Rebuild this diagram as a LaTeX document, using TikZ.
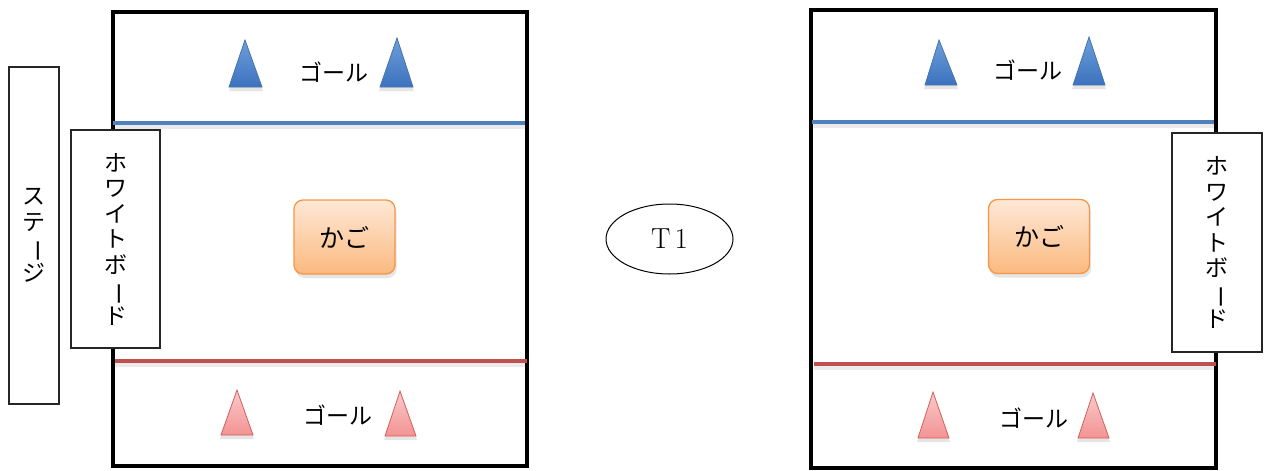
\documentclass[tikz,border=0pt]{standalone}
\usepackage{fontspec}
\newfontfamily\jp{Noto Sans CJK JP}
\usetikzlibrary{shapes.geometric}
\definecolor{goalblue}{HTML}{4F81BD}
\definecolor{goalred}{HTML}{C0504D}
\definecolor{tribluetop}{HTML}{6E9FDB}
\definecolor{tribluebot}{HTML}{3C72BE}
\definecolor{triredtop}{HTML}{F9CACA}
\definecolor{triredbot}{HTML}{F39393}
\definecolor{triredline}{HTML}{D25F5C}
\definecolor{kagotop}{HTML}{FEE8D6}
\definecolor{kagobot}{HTML}{FBB97F}
\definecolor{kagoline}{HTML}{F79646}
\begin{document}
\begin{tikzpicture}[x=1pt,y=-1pt,
  field/.style={draw=black,line width=4pt},
  blueline/.style={draw=goalblue,line width=4pt},
  redline/.style={draw=goalred,line width=4pt},
  lineshadow/.style={draw=black,opacity=0.08,line width=4pt},
  board/.style={draw=black!85,line width=1.3pt,fill=white,align=center,inner sep=0pt,
    font=\jp\fontsize{23}{25.5}\selectfont},
  bluetri/.style={top color=tribluetop,bottom color=tribluebot,draw=goalblue!90!black,line width=0.8pt},
  redtri/.style={top color=triredtop,bottom color=triredbot,draw=triredline,line width=0.8pt},
  trishadow/.style={fill=black,opacity=0.10},
  goaltext/.style={font=\jp\fontsize{23}{25}\selectfont,inner sep=0pt},
  kago/.style={rounded corners=9pt,top color=kagotop,bottom color=kagobot,draw=kagoline,
    line width=1.3pt,minimum width=101pt,minimum height=74pt,font=\jp\fontsize{25}{26}\selectfont},
  kagoshadow/.style={rounded corners=9pt,fill=black,opacity=0.10,minimum width=101pt,minimum height=74pt},
  round/.style={draw=black,line width=1pt,ellipse,minimum width=127pt,minimum height=70pt,
    font=\fontsize{29}{30}\selectfont}
]
\useasboundingbox (0,0) rectangle (1269,471);
\newcommand{\vbar}{\rotatebox[origin=c]{-90}{ー}}

% ---------- left field ----------
\draw[field] (113,12) rectangle (527,466);
\draw[lineshadow] (113,127) -- (525,127);
\draw[blueline] (113,123) -- (525,123);
\draw[lineshadow] (115,365) -- (527,365);
\draw[redline] (115,361) -- (527,361);

\node[board,minimum width=50pt,minimum height=337pt] (stage) at (34,235.5)
  {ス\\テ\\\vbar\\ジ};
\node[board,minimum width=89pt,minimum height=218pt] (wbL) at (115.5,239)
  {ホ\\ワ\\イ\\ト\\ボ\\\vbar\\ド};

\fill[trishadow] (245,44) -- (263,91) -- (229,91) -- cycle;
\path[bluetri] (245,40) -- (262,87) -- (229,87) -- cycle;
\fill[trishadow] (397,42) -- (414,91) -- (379,91) -- cycle;
\path[bluetri] (397,38) -- (413,87) -- (380,87) -- cycle;
\node[goaltext] (goalLtop) at (334,72) {ゴール};

\fill[trishadow] (237,394) -- (254,439) -- (220,439) -- cycle;
\path[redtri] (237,390) -- (253,435) -- (221,435) -- cycle;
\fill[trishadow] (400,395) -- (417,440) -- (384,440) -- cycle;
\path[redtri] (400,391) -- (416,436) -- (385,436) -- cycle;
\node[goaltext] (goalLbot) at (338,415) {ゴール};

\node[kagoshadow] at (346,241) {};
\node[kago] (kagoL) at (344.5,237) {かご};

% ---------- middle ----------
\node[round] (t1) at (669.5,239) {T\hspace{4pt}1};

% ---------- right field ----------
\draw[field] (811,10) rectangle (1216,468);
\draw[lineshadow] (812,126) -- (1214,126);
\draw[blueline] (812,122) -- (1214,122);
\draw[lineshadow] (814,368) -- (1216,368);
\draw[redline] (814,364) -- (1216,364);

\node[board,minimum width=90pt,minimum height=219pt] (wbR) at (1217,242.5)
  {ホ\\ワ\\イ\\ト\\ボ\\\vbar\\ド};

\fill[trishadow] (939,44) -- (958,89) -- (924,89) -- cycle;
\path[bluetri] (939,40) -- (957,85) -- (925,85) -- cycle;
\fill[trishadow] (1089,41) -- (1106,89) -- (1072,89) -- cycle;
\path[bluetri] (1089,37) -- (1105,85) -- (1073,85) -- cycle;
\node[goaltext] (goalRtop) at (1028,70) {ゴール};

\fill[trishadow] (933,396) -- (950,442) -- (917,442) -- cycle;
\path[redtri] (933,392) -- (949,438) -- (918,438) -- cycle;
\fill[trishadow] (1093,397) -- (1110,442) -- (1077,442) -- cycle;
\path[redtri] (1093,393) -- (1109,438) -- (1078,438) -- cycle;
\node[goaltext] (goalRbot) at (1034,418) {ゴール};

\node[kagoshadow] at (1040.5,240.5) {};
\node[kago] (kagoR) at (1039,236.5) {かご};
\end{tikzpicture}
\end{document}
